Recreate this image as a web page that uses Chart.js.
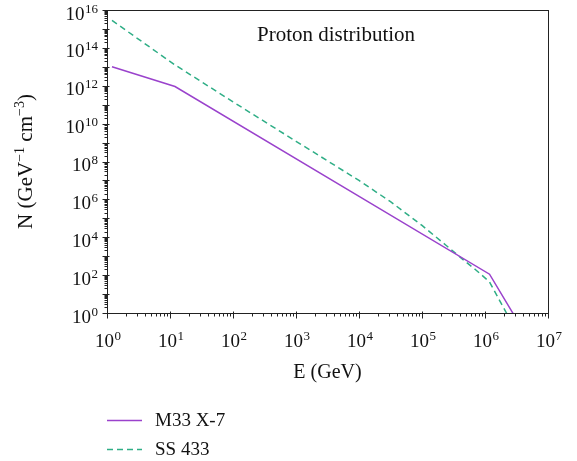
<!DOCTYPE html>
<html>
<head>
<meta charset="utf-8">
<style>
  html, body { margin: 0; padding: 0; background: #fff; }
  #wrap { width: 577px; height: 461px; }
</style>
<script src="https://cdn.jsdelivr.net/npm/chart.js@4/dist/chart.umd.min.js"></script>
</head>
<body>
<div id="wrap"><canvas id="chart" width="577" height="461"></canvas></div>
<script>
// M33 X-7 proton spectrum (E in GeV, N in GeV^-1 cm^-3)
const m33Energy = [1.2, 12, 1.18e6, 3.16e6];
const m33N = [1e13, 9.1e11, 112, 0.47];

// SS 433 proton spectrum
const ssEnergy = [1.2, 12, 100, 1000, 1e4, 3.16e4, 1e5, 2.4e5, 3.98e5, 7.24e5, 1.18e6, 1.7e6, 2.19e6, 2.8e6];
const ssN = [2.8e15, 1.26e13, 1.41e11, 1.17e9, 1e7, 7.6e5, 4.2e4, 3.8e3, 912, 182, 44, 4.7, 1, 0.16];

// tick labels, as powers of ten
const xTickExps = [0, 1, 2, 3, 4, 5, 6, 7];
const yTickExps = [0, 2, 4, 6, 8, 10, 12, 14, 16];

const seriesLabels = ['M33 X-7', 'SS 433'];
const titleText = 'Proton distribution';
const xTitle = 'E (GeV)';

const SERIF = '"Liberation Serif", "DejaVu Serif", serif';
const PURPLE = '#9a42cc';
const GREEN = '#2fae86';

const toPoints = (xs, ys) => xs.map((v, i) => ({ x: v, y: ys[i] }));

// write "10" with a raised exponent, starting at x
function drawPow(ctx, exp, x, baseline, size, supSize) {
  ctx.font = size + 'px ' + SERIF;
  ctx.fillText('10', x, baseline);
  const w = ctx.measureText('10').width;
  ctx.font = supSize + 'px ' + SERIF;
  ctx.fillText(String(exp), x + w + 0.5, baseline - 7);
}

function powWidth(ctx, exp, size, supSize) {
  ctx.font = size + 'px ' + SERIF;
  const w = ctx.measureText('10').width;
  ctx.font = supSize + 'px ' + SERIF;
  return w + 0.5 + ctx.measureText(String(exp)).width;
}

const decor = {
  id: 'decor',
  afterDraw(chart) {
    const { ctx, chartArea: a, scales } = chart;
    const xs = scales.x, ys = scales.y;
    const L = Math.round(a.left) + 0.5, R = Math.round(a.right) + 0.5;
    const T = Math.round(a.top) + 0.5, B = Math.round(a.bottom) + 0.5;
    ctx.save();
    ctx.strokeStyle = '#222';
    ctx.lineWidth = 1;
    ctx.setLineDash([]);
    ctx.strokeRect(L, T, R - L, B - T);

    // x ticks
    ctx.beginPath();
    for (let k = xTickExps[0]; k <= xTickExps[xTickExps.length - 1]; k++) {
      for (let m = 1; m <= 9; m++) {
        if (k === xTickExps[xTickExps.length - 1] && m > 1) break;
        const px = Math.round(xs.getPixelForValue(m * Math.pow(10, k))) + 0.5;
        const len = m === 1 ? 5 : 3;
        ctx.moveTo(px, B - (m === 1 ? 2 : 0));
        ctx.lineTo(px, B + len);
      }
    }
    // y ticks
    for (let k = yTickExps[0]; k <= yTickExps[yTickExps.length - 1]; k++) {
      for (let m = 1; m <= 9; m++) {
        if (k === yTickExps[yTickExps.length - 1] && m > 1) break;
        const py = Math.round(ys.getPixelForValue(m * Math.pow(10, k))) + 0.5;
        const len = m === 1 ? 5 : 3;
        ctx.moveTo(L + (m === 1 ? 2 : 0), py);
        ctx.lineTo(L - len, py);
      }
    }
    ctx.stroke();

    // tick labels
    ctx.fillStyle = '#111';
    ctx.textBaseline = 'alphabetic';
    ctx.textAlign = 'left';
    xTickExps.forEach(e => {
      const px = xs.getPixelForValue(Math.pow(10, e));
      const w = powWidth(ctx, e, 19, 13);
      drawPow(ctx, e, px - w / 2 + 1, B + 33, 19, 13);
    });
    yTickExps.forEach(e => {
      const py = ys.getPixelForValue(Math.pow(10, e));
      const w = powWidth(ctx, e, 19, 13);
      drawPow(ctx, e, 98 - w, py + 9.5, 19, 13);
    });

    // title inside the plot
    ctx.font = '21px ' + SERIF;
    ctx.textAlign = 'center';
    ctx.fillText(titleText, 336, 41);

    // x axis title
    ctx.font = '20px ' + SERIF;
    ctx.fillText(xTitle, (a.left + a.right) / 2, 378);

    // y axis title, rotated, with superscripts
    ctx.save();
    ctx.translate(32, (a.top + a.bottom) / 2);
    ctx.rotate(-Math.PI / 2);
    const parts = [['N (GeV', 21, 0], ['\u22121', 14, -8], [' cm', 21, 0], ['\u22123', 14, -8], [')', 21, 0]];
    let total = 0;
    parts.forEach(p => { ctx.font = p[1] + 'px ' + SERIF; total += ctx.measureText(p[0]).width; });
    let cx = -total / 2;
    ctx.textAlign = 'left';
    parts.forEach(p => {
      ctx.font = p[1] + 'px ' + SERIF;
      ctx.fillText(p[0], cx, p[2]);
      cx += ctx.measureText(p[0]).width;
    });
    ctx.restore();

    // legend below the plot
    const rows = [420, 449];
    chart.data.datasets.forEach((ds, i) => {
      const yy = rows[i] + 0.5;
      ctx.strokeStyle = ds.borderColor;
      ctx.lineWidth = 1.5;
      ctx.setLineDash(ds.borderDash || []);
      ctx.beginPath();
      ctx.moveTo(107, yy);
      ctx.lineTo(142, yy);
      ctx.stroke();
      ctx.setLineDash([]);
      ctx.fillStyle = '#111';
      ctx.font = '19px ' + SERIF;
      ctx.textAlign = 'left';
      ctx.fillText(ds.label, 155, rows[i] + 6);
    });
    ctx.restore();
  }
};

new Chart(document.getElementById('chart'), {
  type: 'line',
  data: {
    datasets: [
      {
        label: seriesLabels[0],
        data: toPoints(m33Energy, m33N),
        borderColor: PURPLE,
        borderWidth: 1.5,
        pointRadius: 0,
        tension: 0,
      },
      {
        label: seriesLabels[1],
        data: toPoints(ssEnergy, ssN),
        borderColor: GREEN,
        borderWidth: 1.5,
        borderDash: [6, 4],
        pointRadius: 0,
        tension: 0,
      },
    ],
  },
  options: {
    responsive: false,
    animation: false,
    events: [],
    layout: { padding: { top: 10, right: 29, left: 0, bottom: 0 } },
    plugins: {
      legend: { display: false },
      title: { display: false },
      tooltip: { enabled: false },
    },
    scales: {
      x: {
        type: 'logarithmic',
        min: Math.pow(10, xTickExps[0]),
        max: Math.pow(10, xTickExps[xTickExps.length - 1]),
        grid: { display: false },
        border: { display: false },
        ticks: { display: false },
        afterFit: (scale) => { scale.height = 148; },
      },
      y: {
        type: 'logarithmic',
        min: Math.pow(10, yTickExps[0]),
        max: Math.pow(10, yTickExps[yTickExps.length - 1]),
        grid: { display: false },
        border: { display: false },
        ticks: { display: false },
        afterFit: (scale) => { scale.width = 107; },
      },
    },
  },
  plugins: [decor],
});
</script>
</body>
</html>
